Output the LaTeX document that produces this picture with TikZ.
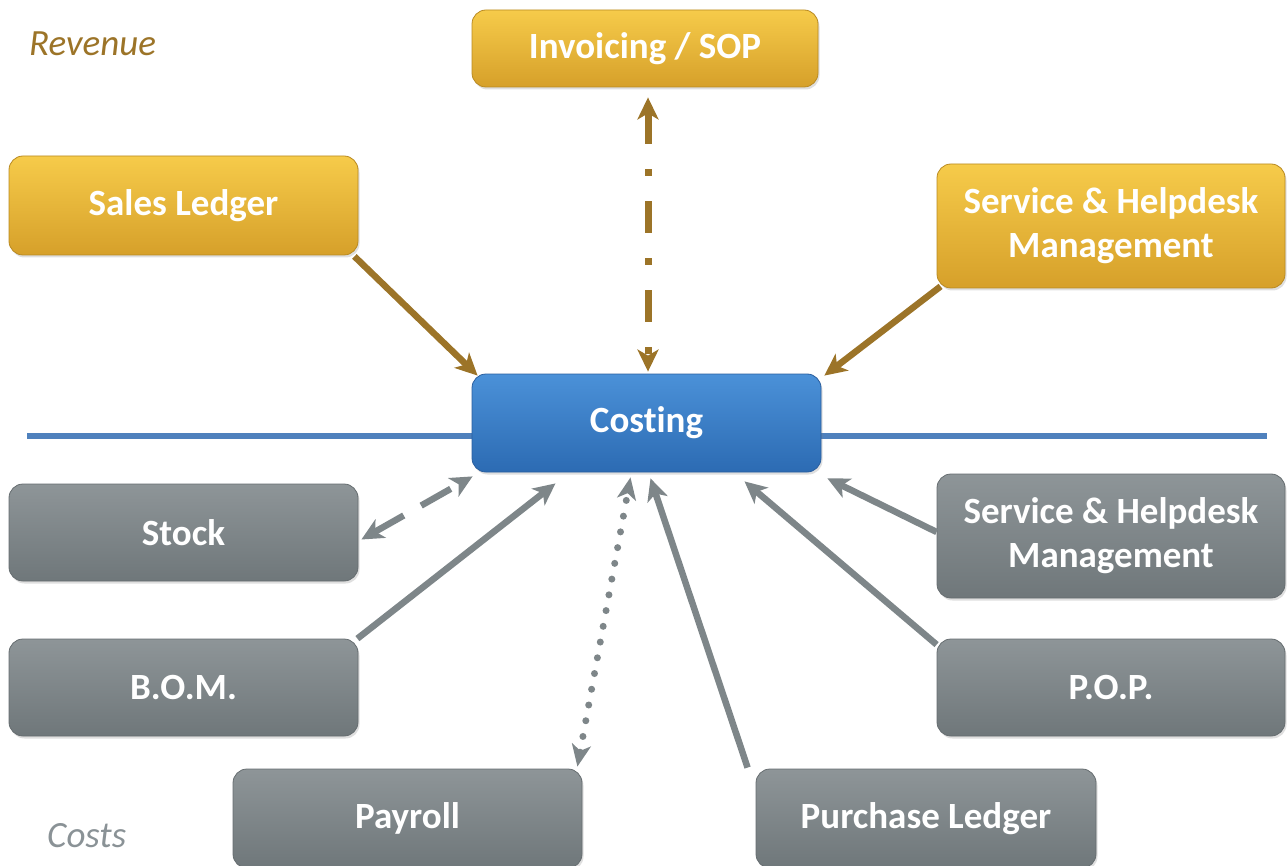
\documentclass[tikz,border=0pt]{standalone}
\usepackage{fontspec}
\setmainfont{Carlito}[Ligatures=NoCommon]
\usetikzlibrary{arrows.meta,calc,shadows}
\definecolor{goldT}{HTML}{F6CB4A}
\definecolor{goldB}{HTML}{D6A02A}
\definecolor{goldD}{HTML}{B98A22}
\definecolor{blueT}{HTML}{4B91D8}
\definecolor{blueB}{HTML}{2C6BB3}
\definecolor{blueD}{HTML}{2A5E9E}
\definecolor{greyT}{HTML}{8E9598}
\definecolor{greyB}{HTML}{6F777A}
\definecolor{greyD}{HTML}{666D70}
\definecolor{brownA}{HTML}{9C7428}
\definecolor{greyA}{HTML}{7E8689}
\definecolor{lineB}{HTML}{4F81BD}
\definecolor{costsC}{HTML}{8A9296}
\tikzset{
  box/.style={rounded corners=14pt, inner sep=0pt, align=center, text=white,
    font=\fontsize{37}{44}\selectfont\bfseries,
    drop shadow={opacity=0.25, shadow xshift=1.5pt, shadow yshift=-2.5pt}},
  goldbox/.style={box, top color=goldT, bottom color=goldB, draw=goldD, line width=0.8pt},
  bluebox/.style={box, top color=blueT, bottom color=blueB, draw=blueD, line width=0.8pt},
  greybox/.style={box, top color=greyT, bottom color=greyB, draw=greyD, line width=0.8pt},
  garrow/.style={line width=6.5pt, draw=brownA, -{Stealth[length=22pt,width=21pt,inset=6pt]}},
  grarrow/.style={line width=6.5pt, draw=greyA, -{Stealth[length=22pt,width=21pt,inset=6pt]}},
}
\begin{document}
\begin{tikzpicture}[x=1pt,y=-1pt]
\useasboundingbox (0,0) rectangle (1287,866);
% divider line
\coordinate (lineL) at (27,436);
\coordinate (lineR) at (1267,436);
\draw[lineB, line width=6pt] (lineL) -- (lineR);
% labels
\node[anchor=west, inner sep=0pt, text=brownA, font=\fontsize{37}{44}\selectfont\itshape] (rev) at (29,44) {Revenue};
\node[anchor=west, inner sep=0pt, text=costsC, font=\fontsize{37}{44}\selectfont\itshape] (costs) at (47,836) {Costs};
% boxes
\node[goldbox, minimum width=346pt, minimum height=77pt] (inv) at (645,48.5) {Invoicing / SOP};
\node[goldbox, minimum width=349pt, minimum height=99pt] (sales) at (183.5,205.5) {Sales Ledger};
\node[goldbox, minimum width=348pt, minimum height=124pt] (servtop) at (1111,226) {Service \& Helpdesk\\Management};
\node[bluebox, minimum width=349pt, minimum height=98pt] (costing) at (646.5,423) {Costing};
\node[greybox, minimum width=349pt, minimum height=97pt] (stock) at (183.5,532.5) {Stock};
\node[greybox, minimum width=348pt, minimum height=124pt] (servbot) at (1111,536) {Service \& Helpdesk\\Management};
\node[greybox, minimum width=349pt, minimum height=97pt] (bom) at (183.5,687.5) {B.O.M.};
\node[greybox, minimum width=348pt, minimum height=97pt] (pop) at (1111,687.5) {P.O.P.};
\node[greybox, minimum width=349pt, minimum height=99pt] (payroll) at (407.5,818.5) {Payroll};
\node[greybox, minimum width=340pt, minimum height=99pt] (purch) at (926,818.5) {Purchase Ledger};
% revenue arrows
\draw[garrow] ($(sales.south east)+(-4,1)$) -- ($(costing.north west)+(6,2)$);
\draw[line width=7pt, draw=brownA, dash pattern=on 32pt off 25pt on 7pt off 25pt, {Stealth[length=22pt,width=21pt,inset=6pt]}-{Stealth[length=22pt,width=21pt,inset=6pt]}]
  ($(inv.south)+(3,10)$) -- ($(costing.north)+(1.5,-2)$);
\draw[garrow] ($(servtop.south west)+(4,-2)$) -- ($(costing.north east)+(3,2)$);
% cost arrows
\draw[line width=6.5pt, draw=greyA, dash pattern=on 34pt off 20pt, {Stealth[length=22pt,width=21pt,inset=6pt]}-{Stealth[length=22pt,width=21pt,inset=6pt]}]
  ($(stock.east)+(3,7)$) -- ($(costing.south west)+(1,4)$);
\draw[grarrow] ($(bom.north east)+(-1,0)$) -- ($(costing.south)+(-91,11)$);
\draw[line width=7pt, draw=greyA, line cap=round, dash pattern=on 0pt off 16pt, {Stealth[length=22pt,width=19pt,inset=6pt]}-{Stealth[length=22pt,width=19pt,inset=6pt]}]
  ($(payroll.north east)+(-5,-2)$) -- ($(costing.south)+(-16,5)$);
\draw[grarrow] ($(purch.north west)+(-8,-1)$) -- ($(costing.south)+(4,6)$);
\draw[grarrow] ($(pop.north west)+(0,6)$) -- ($(costing.south)+(98,9)$);
\draw[grarrow] ($(servbot.west)+(0,-4)$) -- ($(costing.south east)+(6,6)$);
\end{tikzpicture}
\end{document}
